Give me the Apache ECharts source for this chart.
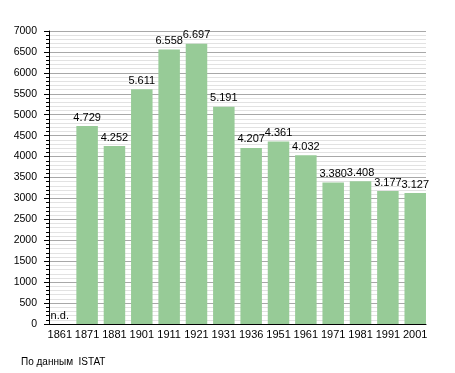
<!DOCTYPE html>
<html><head><meta charset="utf-8">
<script src="https://cdn.jsdelivr.net/npm/echarts@6/dist/echarts.min.js"></script>
<style>html,body{margin:0;padding:0;background:#fff}#c{width:455px;height:373px}</style>
</head><body><div id="c"></div>
<script>
const years = ['1861','1871','1881','1901','1911','1921','1931','1936','1951','1961','1971','1981','1991','2001'];
const population = [null,4729,4252,5611,6558,6697,5191,4207,4361,4032,3380,3408,3177,3127];
const yTicks = [0,500,1000,1500,2000,2500,3000,3500,4000,4500,5000,5500,6000,6500,7000];
const sourceText = 'По данным  ISTAT';
const missingLabel = 'n.d.';

const fmt = v => String(v).replace(/\B(?=(\d{3})+(?!\d))/g, '.');
const chart = echarts.init(document.getElementById('c'), null, {renderer:'canvas'});
const font = 'Liberation Sans, Arial, sans-serif';
const narrow = 'Liberation Sans Narrow, Arial Narrow, sans-serif';
const barFrac = 0.7875;
const idx = years.map((_, i) => i);
chart.setOption({
  animation:false,
  grid:{left:49,right:29,top:31,bottom:49,containLabel:false},
  xAxis:{type:'value',min:-barFrac/2,max:years.length-1+barFrac/2,
    axisLine:{show:true,onZero:false,lineStyle:{color:'#000',width:1}},
    axisTick:{show:false},
    splitLine:{show:false},
    axisLabel:{customValues:idx,color:'#000',fontFamily:narrow,fontSize:11,margin:5,
      formatter:v=>years[Math.round(v)]}},
  yAxis:{type:'value',min:yTicks[0],max:yTicks[yTicks.length-1],interval:500,
    axisLine:{show:true,onZero:false,lineStyle:{color:'#000'}},
    axisTick:{show:true,length:5,lineStyle:{color:'#000'}},
    minorTick:{show:true,splitNumber:5,length:3,lineStyle:{color:'#000'}},
    splitLine:{show:true,lineStyle:{color:'#a8a8a8',width:1}},
    minorSplitLine:{show:true,lineStyle:{color:'#e2e2e2',width:1}},
    axisLabel:{color:'#000',fontFamily:font,fontSize:10.5,margin:12,formatter:v=>String(v)}},
  series:[{type:'bar',
    data:population.map((v,i)=>v===null?{value:[i,0],label:{formatter:missingLabel}}:[i,v]),
    barWidth:21.5,
    itemStyle:{color:'#97cb97'},
    label:{show:true,position:'top',distance:3,color:'#000',fontFamily:font,fontSize:11,
      formatter:p=>fmt(p.value[1])}}],
  graphic:[{type:'text',left:21,top:357,style:{text:sourceText,fill:'#000',font:'10px '+font}}]
});
</script></body></html>
